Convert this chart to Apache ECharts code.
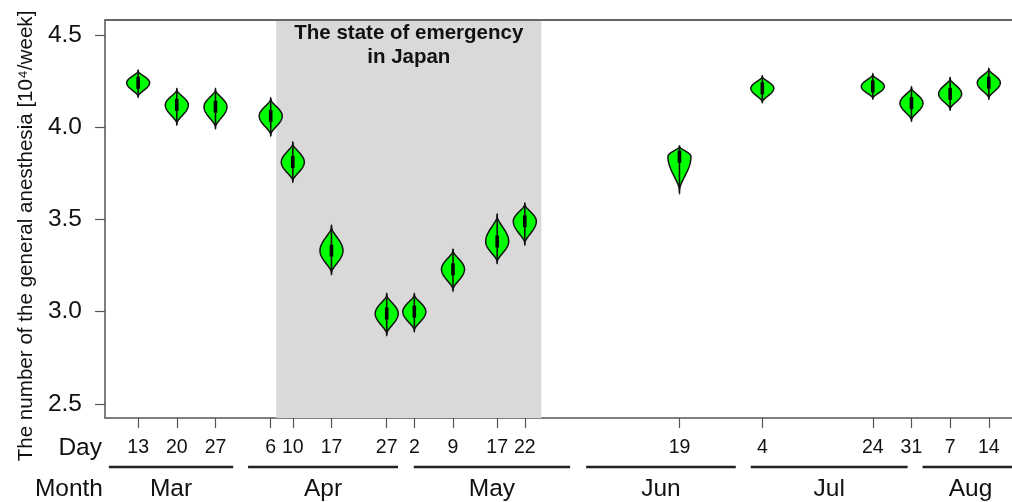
<!DOCTYPE html>
<html>
<head>
<meta charset="utf-8">
<script src="https://cdn.jsdelivr.net/npm/echarts@6/dist/echarts.min.js"></script>
<style>
html,body{margin:0;padding:0;background:#fff;}
#chart{width:1012px;height:502px;}
</style>
</head>
<body>
<div id="chart"></div>
<script>
// ---- data ----
var weekDates = ['2020-03-13','2020-03-20','2020-03-27','2020-04-06','2020-04-10','2020-04-17','2020-04-27','2020-05-02','2020-05-09','2020-05-17','2020-05-22','2020-06-19','2020-07-04','2020-07-24','2020-07-31','2020-08-07','2020-08-14'];
var medianVals = [4.24,4.12,4.11,4.06,3.81,3.33,2.99,3.00,3.23,3.38,3.49,3.84,4.21,4.22,4.13,4.18,4.24];
var lowVals    = [4.16,4.01,3.99,3.95,3.70,3.20,2.87,2.89,3.11,3.26,3.36,3.64,4.13,4.15,4.03,4.09,4.15];
var highVals   = [4.31,4.21,4.21,4.16,3.92,3.47,3.10,3.10,3.34,3.53,3.59,3.90,4.28,4.29,4.22,4.27,4.32];
var yTicks = [2.5,3.0,3.5,4.0,4.5];
var emergencyPeriod = ['2020-04-07','2020-05-25'];
var emergencyText = 'The state of emergency\nin Japan';
var monthNames = ['Mar','Apr','May','Jun','Jul','Aug'];
var monthBarFrom = ['2020-03-07.7','2020-04-01.9','2020-05-01.9','2020-06-02.1','2020-07-01.9','2020-08-02.0'];
var monthBarTo   = ['2020-03-30.2','2020-04-29.05','2020-05-30.2','2020-06-29.2','2020-07-30.3','2020-08-19.4'];
var yTitle = 'The number of the general anesthesia [10\u2074/week]';
var xRange = ['2020-03-07.0','2020-08-18.2'];
var yRange = [2.424, 4.58];

function ts(s){
  var p = s.split('-');
  var day = parseFloat(p[2]);
  var base = Date.UTC(+p[0], +p[1]-1, 1);
  return base + (day-1)*86400000;
}

var violinData = weekDates.map(function(d,i){ return [ts(d), medianVals[i], lowVals[i], highVals[i]]; });
var dayTs = weekDates.map(ts);
var monthData = monthNames.map(function(m,i){ return [ts(monthBarFrom[i]), ts(monthBarTo[i])]; });

var FONT = 'Liberation Sans, Arial, Helvetica, sans-serif';
var chart = echarts.init(document.getElementById('chart'), null, {renderer:'canvas'});

var option = {
  animation:false,
  backgroundColor:'#fff',
  grid:{left:105, top:20, right:0, bottom:84, show:false},
  xAxis:[{
    type:'value', min:ts(xRange[0]), max:ts(xRange[1]),
    axisLine:{show:true, lineStyle:{color:'#555', width:1.5}},
    axisTick:{show:true, customValues:dayTs, length:10, inside:false, lineStyle:{color:'#555', width:1.2}},
    axisLabel:{show:true, customValues:dayTs, margin:20, fontSize:19.5, color:'#111', fontFamily:FONT,
      formatter:function(v){ return String(new Date(v).getUTCDate()); }},
    splitLine:{show:false}
  },{
    type:'value', position:'top', min:ts(xRange[0]), max:ts(xRange[1]),
    axisLine:{show:true, lineStyle:{color:'#666', width:1.8}},
    axisTick:{show:false}, axisLabel:{show:false}, splitLine:{show:false}
  }],
  yAxis:{
    type:'value', min:yRange[0], max:yRange[1],
    axisLine:{show:true, lineStyle:{color:'#555', width:1.5}},
    axisTick:{show:true, customValues:yTicks, length:10, lineStyle:{color:'#555', width:1.2}},
    axisLabel:{show:true, customValues:yTicks, margin:23, fontSize:24.5, color:'#111', fontFamily:FONT,
      formatter:function(v){ return Number(v).toFixed(1); }},
    splitLine:{show:false}
  },
  graphic:[
    {type:'text', x:26, y:236, rotation:Math.PI/2,
      style:{text:yTitle, fontSize:20.6, fontFamily:FONT, fill:'#111', textAlign:'center', textVerticalAlign:'middle'}},
    {type:'text', x:102, y:448,
      style:{text:'Day', fontSize:24.5, fontFamily:FONT, fill:'#111', textAlign:'right', textVerticalAlign:'middle'}},
    {type:'text', x:103, y:489,
      style:{text:'Month', fontSize:24.5, fontFamily:FONT, fill:'#111', textAlign:'right', textVerticalAlign:'middle'}}
  ],
  series:[
    {
      type:'custom', name:'emergency', z:1, silent:true,
      data:[[ts(emergencyPeriod[0]), ts(emergencyPeriod[1])]],
      renderItem:function(params, api){
        var cs = params.coordSys;
        var a = api.coord([api.value(0), yRange[1]]);
        var b = api.coord([api.value(1), yRange[0]]);
        return {type:'group', children:[
          {type:'rect', shape:{x:a[0], y:cs.y+1, width:b[0]-a[0], height:cs.height-1}, style:{fill:'#d9d9d9'}},
          {type:'text', x:(a[0]+b[0])/2, y:cs.y+1,
            style:{text:emergencyText, fontSize:20.5, fontWeight:'bold', fontFamily:FONT, fill:'#111',
              textAlign:'center', textVerticalAlign:'top', lineHeight:24}}
        ]};
      }
    },
    {
      type:'custom', name:'violins', z:3, silent:true,
      data:violinData,
      renderItem:function(params, api){
        var x = api.value(0);
        var pM = api.coord([x, api.value(1)]);
        var pL = api.coord([x, api.value(2)]);
        var pH = api.coord([x, api.value(3)]);
        var W = 11.5, N = 30, span = 0.9;
        var right = [];
        var i, t, y;
        function shape(t){ return W*Math.pow(Math.cos(Math.PI*t/2), 1.5); }
        for(i=N;i>=0;i--){
          t = i/N; y = pM[1] + span*t*(pH[1]-pM[1]); right.push([pM[0]+shape(t), y]);
        }
        for(i=1;i<=N;i++){
          t = i/N; y = pM[1] + span*t*(pL[1]-pM[1]); right.push([pM[0]+shape(t), y]);
        }
        var pts = right.slice();
        for(i=right.length-1;i>=0;i--){ pts.push([2*pM[0]-right[i][0], right[i][1]]); }
        return {type:'group', children:[
          {type:'polygon', shape:{points:pts}, style:{fill:'#00ff00', stroke:'#111', lineWidth:1.5}},
          {type:'line', shape:{x1:pM[0], y1:pH[1], x2:pM[0], y2:pL[1]}, style:{stroke:'#111', lineWidth:1.6}},
          {type:'rect', shape:{x:pM[0]-1.8, y:pM[1]-6, width:3.6, height:12}, style:{fill:'#000'}}
        ]};
      }
    },
    {
      type:'custom', name:'months', z:4, silent:true, clip:false,
      data:monthData,
      renderItem:function(params, api){
        var cs = params.coordSys;
        var base = cs.y + cs.height;
        var a = api.coord([api.value(0), yRange[0]]);
        var b = api.coord([api.value(1), yRange[0]]);
        return {type:'group', children:[
          {type:'line', shape:{x1:a[0], y1:base+49, x2:b[0], y2:base+49}, style:{stroke:'#222', lineWidth:2.5}},
          {type:'text', x:(a[0]+b[0])/2, y:base+71,
            style:{text:monthNames[params.dataIndex], fontSize:24.5, fontFamily:FONT, fill:'#111', textAlign:'center', textVerticalAlign:'middle'}}
        ]};
      }
    }
  ]
};
chart.setOption(option);
</script>
</body>
</html>
